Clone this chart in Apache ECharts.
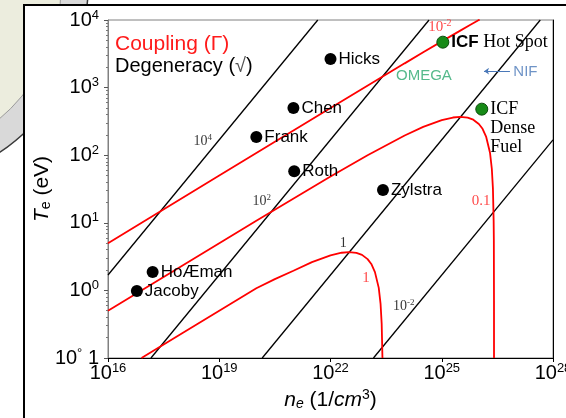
<!DOCTYPE html>
<html><head><meta charset="utf-8">
<script src="https://cdn.jsdelivr.net/npm/echarts@6/dist/echarts.min.js"></script>
<style>html,body{margin:0;padding:0;background:#fff}#c{width:566px;height:418px}</style>
</head><body><div id="c"></div>
<script>
// ---- tick exponents ----
const xTickExps = [16, 19, 22, 25, 28];
const yTickExps = [-1, 0, 1, 2, 3, 4];

// ---- degeneracy lines (black) [n_e, T_e] ----
const degen1e4  = [[1e16, 1.69], [4.54e21, 1e4]];
const degen1e2  = [[1.44e17, 0.1], [4.54e24, 1e4]];
const degen1    = [[1.44e20, 0.1], [4.54e27, 1e4]];
const degen1em2 = [[1.44e23, 0.1], [1e28, 169]];

// ---- coupling curves (red) [n_e, T_e] ----
const coupling001 = [[1e16, 5.0], [1e19, 50], [1e22, 498], [1e24, 2284], [3.16e24, 3327], [1e25, 4831], [3.16e25, 6970], [5.62e25, 8352], [1e26, 9984], [1.05e26, 10126]];
const coupling01 = [[1e16, 0.50], [1e18, 2.32], [1e20, 10.76], [1e22, 48.3], [1e23, 99.8], [1e24, 195.5], [3.16e24, 262], [1e25, 330], [2e25, 361], [3.16e25, 369], [5e25, 359], [7.08e25, 335], [1e26, 290], [1.26e26, 246], [1.58e26, 186], [2e26, 109], [2.24e26, 63], [2.4e26, 32], [2.51e26, 10.6], [2.54e26, 5.5], [2.564e26, 0.7], [2.568e26, 0.1]];
const coupling1 = [[8e16, 0.1], [1e18, 0.232], [1e20, 1.077], [3.16e20, 1.47], [1e21, 1.955], [3.16e21, 2.62], [1e22, 3.30], [2e22, 3.607], [3.16e22, 3.686], [5e22, 3.59], [7.08e22, 3.35], [1e23, 2.90], [1.26e23, 2.46], [1.58e23, 1.865], [2e23, 1.089], [2.24e23, 0.63], [2.4e23, 0.32], [2.51e23, 0.106], [2.52e23, 0.1]];

// ---- experiments ----
const expNames = ['Hicks', 'Chen', 'Frank', 'Roth', 'Zylstra', 'HoÆman', 'Jacoby'];
const expN     = [1e22, 1e21, 1e20, 1.05e21, 2.6e23, 1.6e17, 6e16];
const expT     = [2650, 500, 186, 58, 30.5, 1.87, 0.98];

const icfNames = ['ICF Hot Spot', 'ICF Dense Fuel'];
const icfN     = [1.07e25, 1.2e26];
const icfT     = [4700, 480];

// ---- line labels ----
const degenLabelText = ['10^4', '10^2', '1', '10^-2'];
const degenLabelN    = [3.6e18, 1.4e20, 2.2e22, 9.5e23];
const degenLabelT    = [162, 21, 5.0, 0.59];

const coupLabelText = ['10^-2', '0.1', '1'];
const coupLabelN    = [8.9e24, 1.15e26, 9.1e22];
const coupLabelT    = [7900, 21, 1.5];

const omegaText = 'OMEGA'; const omegaN = 3.3e24; const omegaT = 1480;
const nifText = 'NIF'; const nifN = 1.8e27; const nifT = 1700;
const nifArrow = [[6.9e26, 1750], [1.38e26, 1750]];

// ---- helpers ----
const sans = 'Liberation Sans, Arial, sans-serif';
const serif = 'Liberation Serif, Times New Roman, serif';
function supText(t) {
  const i = t.indexOf('^');
  if (i < 0) return '{b|' + t + '}';
  return '{b|' + t.slice(0, i) + '}{s|' + t.slice(i + 1) + '}';
}

const chart = echarts.init(document.getElementById('c'), null, {renderer: 'canvas'});
const lineSeries = (data, color, width) => ({
  type: 'line', data: data, symbol: 'none', silent: true, clip: true,
  lineStyle: {color: color, width: width}, z: 3, animation: false
});

const option = {
  backgroundColor: '#fff',
  animation: false,
  graphic: [
    {type: 'circle', shape: {cx: -111, cy: -13, r: 199}, style: {fill: '#d9d9d9', stroke: '#3a3a3a', lineWidth: 1.5}, z: -20},
    {type: 'circle', shape: {cx: -111, cy: -13, r: 172}, style: {fill: '#ecedde', stroke: '#9a9a9a', lineWidth: 1}, z: -19},
    {type: 'rect', shape: {x: 24, y: 5, width: 620, height: 500}, style: {fill: '#fff', stroke: '#000', lineWidth: 2}, z: -18},
    {type: 'text', left: 115, top: 34, z: 50, style: {text: 'Coupling (Γ)', font: '21px ' + sans, fill: '#ff1a1a'}},
    {type: 'text', left: 115, top: 56, z: 50, style: {text: '{a|Degeneracy (}{c|√}{a|)}', rich: {a: {fontSize: 20, fontFamily: sans, fill: '#000'}, c: {fontSize: 20, fontFamily: sans, fill: '#555'}}}}
  ],
  grid: {left: 108, right: 13, top: 20, bottom: 60, outerBoundsMode: 'none', containLabel: false, show: true, borderColor: '#808080', borderWidth: 1, backgroundColor: 'transparent'},
  xAxis: {
    type: 'log', logBase: 10, min: 1e16, max: 1e28, interval: 3,
    axisLine: {lineStyle: {color: '#000', width: 1}},
    axisTick: {length: 4, lineStyle: {color: '#000'}},
    splitLine: {show: false},
    minorTick: {show: false},
    axisLabel: {
      margin: 4, hideOverlap: false,
      formatter: v => { const e = Math.round(Math.log10(v)); return xTickExps.includes(e) ? '{b|10}{s|' + e + '}' : ''; },
      rich: {b: {fontSize: 20, fontFamily: sans, color: '#000'}, s: {fontSize: 13, fontFamily: sans, color: '#000', padding: [0, 0, 10, 0]}}
    },
    name: '{i|n}{sub|e}{r| (1/}{i|cm}{sup|3}{r|)}', nameLocation: 'middle', nameGap: 30, nameMoveOverlap: false,
    nameTextStyle: {rich: {
      i: {fontSize: 21, fontStyle: 'italic', fontFamily: sans, color: '#000'},
      sub: {fontSize: 14, fontStyle: 'italic', fontFamily: sans, color: '#000', padding: [8, 0, 0, 0]},
      r: {fontSize: 21, fontFamily: sans, color: '#000'},
      sup: {fontSize: 14, fontFamily: sans, color: '#000', padding: [0, 0, 10, 0]}
    }}
  },
  yAxis: [{
    type: 'log', logBase: 10, min: 0.1, max: 1e4,
    axisLine: {lineStyle: {color: '#808080', width: 1}},
    axisTick: {length: 4, lineStyle: {color: '#555'}},
    minorTick: {show: true, splitNumber: 9, length: 2, lineStyle: {color: '#777'}},
    splitLine: {show: false},
    axisLabel: {
      margin: 9,
      formatter: v => { const e = Math.round(Math.log10(v)); if (!yTickExps.includes(e)) return ''; return e === -1 ? '{b|10}{s|°}{b| 1}' : '{b|10}{s|' + e + '}'; },
      rich: {b: {fontSize: 20, fontFamily: sans, color: '#000'}, s: {fontSize: 13, fontFamily: sans, color: '#000', padding: [0, 0, 10, 0]}}
    },
    name: '{i|T}{sub|e}{r| (eV)}', nameLocation: 'middle', nameGap: 55, nameRotate: 90, nameMoveOverlap: false,
    nameTextStyle: {rich: {
      i: {fontSize: 21, fontStyle: 'italic', fontFamily: sans, color: '#000'},
      sub: {fontSize: 14, fontFamily: sans, color: '#000', padding: [8, 0, 0, 0]},
      r: {fontSize: 21, fontFamily: sans, color: '#000'}
    }}
  }, {
    type: 'log', logBase: 10, min: 0.1, max: 1e4, position: 'right',
    axisLine: {show: true, lineStyle: {color: '#000', width: 1}},
    axisTick: {show: false}, axisLabel: {show: false}, splitLine: {show: false}
  }],
  series: [
    lineSeries(degen1e4, '#000', 1.3),
    lineSeries(degen1e2, '#000', 1.3),
    lineSeries(degen1, '#000', 1.3),
    lineSeries(degen1em2, '#000', 1.3),
    lineSeries(coupling001, '#ff0000', 1.8),
    lineSeries(coupling01, '#ff0000', 1.8),
    lineSeries(coupling1, '#ff0000', 1.8),
    {
      type: 'scatter', z: 5, symbolSize: 12, itemStyle: {color: '#000', opacity: 1},
      data: expNames.map((nm, i) => ({name: nm, value: [expN[i], expT[i]]})),
      label: {show: true, position: 'right', distance: 2, formatter: '{b}', fontSize: 17, fontFamily: sans, color: '#000'}
    },
    {
      type: 'scatter', z: 5, symbolSize: 12, itemStyle: {color: '#168a16', borderColor: '#0d4d0d', borderWidth: 1, opacity: 1},
      data: icfNames.map((nm, i) => ({name: nm, value: [icfN[i], icfT[i]]})),
      label: {show: true, position: 'right', distance: 2,
        formatter: p => p.dataIndex === 0 ? '{bold|ICF}{t| Hot Spot}' : '{t|ICF}\n{t|Dense}\n{t|Fuel}',
        rich: {bold: {fontSize: 17, fontWeight: 'bold', fontFamily: sans, color: '#000'}, t: {fontSize: 18, fontFamily: serif, color: '#000', lineHeight: 19}}
      },
      labelLayout: p => p.dataIndex === 1 ? {dy: 19} : {}
    },
    {
      type: 'scatter', z: 6, symbolSize: 0, silent: true,
      data: degenLabelText.map((t, i) => ({name: t, value: [degenLabelN[i], degenLabelT[i]]})),
      label: {show: true, position: 'inside', formatter: p => supText(p.name),
        rich: {b: {fontSize: 14, fontFamily: serif, color: '#000'}, s: {fontSize: 9, fontFamily: serif, color: '#000', padding: [0, 0, 7, 0]}}}
    },
    {
      type: 'scatter', z: 6, symbolSize: 0, silent: true,
      data: coupLabelText.map((t, i) => ({name: t, value: [coupLabelN[i], coupLabelT[i]]})),
      label: {show: true, position: 'inside', formatter: p => supText(p.name),
        rich: {b: {fontSize: 15, fontFamily: serif, color: '#ff1a1a'}, s: {fontSize: 10, fontFamily: serif, color: '#ff1a1a', padding: [0, 0, 7, 0]}}}
    },
    {
      type: 'scatter', z: 6, symbolSize: 0, silent: true,
      data: [{name: omegaText, value: [omegaN, omegaT]}],
      label: {show: true, position: 'inside', formatter: '{b}', fontSize: 15, fontFamily: sans, color: '#2aa86e'}
    },
    {
      type: 'scatter', z: 6, symbolSize: 0, silent: true,
      data: [{name: nifText, value: [nifN, nifT]}],
      label: {show: true, position: 'inside', formatter: '{b}', fontSize: 15, fontFamily: sans, color: '#4a78b8'}
    },
    {
      type: 'lines', coordinateSystem: 'cartesian2d', z: 6, silent: true,
      symbol: ['none', 'arrow'], symbolSize: 5,
      lineStyle: {color: '#4a78b8', width: 1, opacity: 1},
      data: [{coords: nifArrow}]
    }
  ]
};
chart.setOption(option);
</script></body></html>
